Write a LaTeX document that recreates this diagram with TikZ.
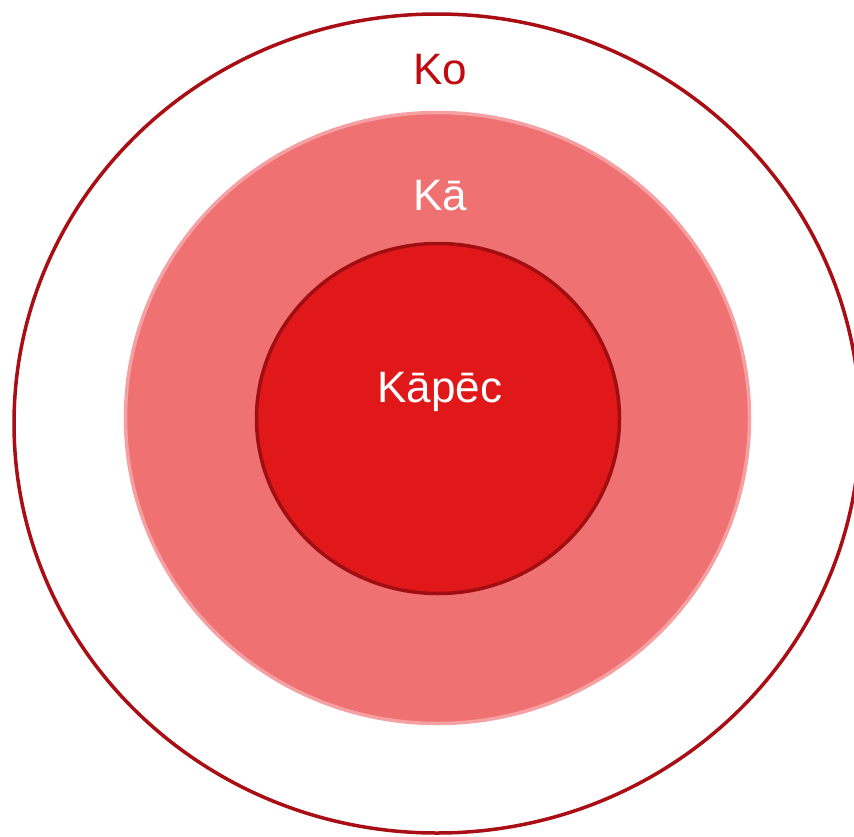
\documentclass[tikz,border=0pt]{standalone}
\usepackage{fontspec}
\setmainfont{Liberation Sans}
\usetikzlibrary{shapes.geometric}

\definecolor{korim}{RGB}{168,14,20}
\definecolor{kafill}{RGB}{240,113,113}
\definecolor{karim}{RGB}{245,160,162}
\definecolor{kapfill}{RGB}{224,24,26}
\definecolor{kaprim}{RGB}{160,14,18}
\definecolor{kotext}{RGB}{190,10,16}

\begin{document}
\begin{tikzpicture}[
  x=1pt, y=-1pt,
  font=\fontsize{44}{50}\selectfont,
  ring/.style={ellipse, inner sep=0pt, line width=3.5pt},
  outerring/.style={ring, draw=korim, fill=white, minimum width=846pt, minimum height=819pt},
  midring/.style={ring, draw=karim, fill=kafill, minimum width=624pt, minimum height=611pt},
  innerring/.style={ring, draw=kaprim, fill=kapfill, minimum width=363pt, minimum height=350pt},
  lbl/.style={inner sep=0pt, anchor=base}
]
\useasboundingbox (0,0) rectangle (854,836);
\node[outerring] (ko_ring) at (437,423.5) {};
\node[midring] (ka_ring) at (437.5,418) {};
\node[innerring] (kapec_ring) at (438,418.5) {};

\node[lbl, text=kotext] (ko) at (440,84) {Ko};
\node[lbl, text=white] (ka) at (440,210) {Kā};
\node[lbl, text=white] (kapec) at (440,402) {Kāpēc};
\end{tikzpicture}
\end{document}
